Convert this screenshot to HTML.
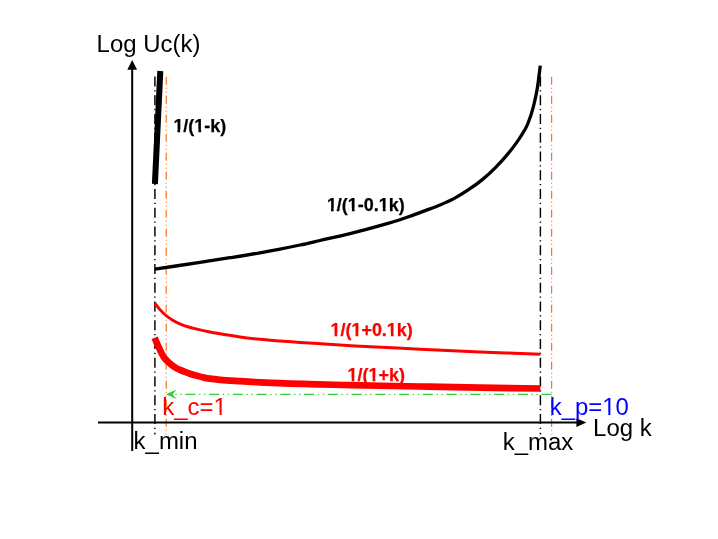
<!DOCTYPE html>
<html>
<head>
<meta charset="utf-8">
<title>Log Uc(k)</title>
<style>
html,body{margin:0;padding:0;background:#fff;}
body{width:718px;height:539px;overflow:hidden;font-family:"Liberation Sans",sans-serif;}
svg{display:block;will-change:transform;}
text{font-family:"Liberation Sans",sans-serif;}
.b{font-weight:bold;font-size:17.95px;stroke-width:0.25px;stroke-linejoin:round;}
.n{font-size:23.95px;}
</style>
</head>
<body>
<svg width="718" height="539" viewBox="0 0 718 539">
<defs>
<clipPath id="ct2"><path clip-rule="evenodd" d="M0 0H718V539H0Z M173.23 129.27H177.47V133.60H173.23Z M180.17 129.27H183.11V133.60H180.17Z M194.78 129.27H198.42V133.60H194.78Z M201.12 129.27H205.13V133.60H201.12Z"/></clipPath>
<clipPath id="ct3"><path clip-rule="evenodd" d="M0 0H718V539H0Z M326.73 208.07H330.97V212.40H326.73Z M333.67 208.07H336.61V212.40H333.67Z M348.28 208.07H351.92V212.40H348.28Z M354.62 208.07H358.63V212.40H354.62Z M378.61 208.07H382.85V212.40H378.61Z M385.55 208.07H389.56V212.40H385.55Z"/></clipPath>
<clipPath id="ct4"><path clip-rule="evenodd" d="M0 0H718V539H0Z M330.33 333.27H334.57V337.60H330.33Z M337.27 333.27H340.21V337.60H337.27Z M351.88 333.27H355.52V337.60H351.88Z M358.22 333.27H362.23V337.60H358.22Z M386.71 333.27H390.95V337.60H386.71Z M393.66 333.27H397.67V337.60H393.66Z"/></clipPath>
<clipPath id="ct5"><path clip-rule="evenodd" d="M0 0H718V539H0Z M347.43 377.87H351.67V382.20H347.43Z M354.37 377.87H357.31V382.20H354.37Z M368.98 377.87H372.62V382.20H368.98Z M375.32 377.87H379.33V382.20H375.32Z"/></clipPath>
<clipPath id="ct6"><path clip-rule="evenodd" d="M0 0H718V539H0Z M214.08 412.51H219.58V416.80H214.08Z M221.70 412.51H227.01V416.80H221.70Z"/></clipPath>
<clipPath id="ct7"><path clip-rule="evenodd" d="M0 0H718V539H0Z M602.83 412.51H608.32V416.80H602.83Z M610.44 412.51H615.75V416.80H610.44Z"/></clipPath>
</defs>
<rect width="718" height="539" fill="#fff"/>

<!-- vertical dash-dot guide lines -->
<line x1="154.9" y1="76.5" x2="154.9" y2="434.5" stroke="#000" stroke-width="1.45" stroke-dasharray="10 3.75 1.25 3.75"/>
<line x1="540.4" y1="76.5" x2="540.4" y2="434.5" stroke="#000" stroke-width="1.45" stroke-dasharray="10 3.75 1.25 3.75"/>
<line x1="166.2" y1="76.7" x2="166.2" y2="434.5" stroke="#ff6600" stroke-width="1.1" stroke-dasharray="8 3 1 3 1 3"/>
<line x1="551.65" y1="76.7" x2="551.65" y2="434.5" stroke="#ff6600" stroke-width="1.1" stroke-dasharray="8 3 1 3 1 3"/>

<!-- green arrow -->
<line x1="551.6" y1="394.45" x2="172" y2="394.45" stroke="#33cc33" stroke-width="1.25" stroke-dasharray="10 3.75 1.25 3.75 1.25 3.75"/>
<path d="M166 394.3 L176.6 389.5 L172.6 394.3 L176.6 399.1 Z" fill="#33cc33"/>

<!-- curves -->
<path d="M154.9 269.2 C169.93 266.90 184.97 264.60 200.0 262.3 C210.00 260.77 220.00 259.28 230.0 257.7 C240.00 256.12 250.00 254.56 260.0 252.8 C266.67 251.62 273.33 250.40 280.0 249.1 C286.67 247.80 293.33 246.43 300.0 245.0 C306.67 243.57 313.33 242.01 320.0 240.5 C330.00 238.23 340.00 236.08 350.0 233.6 C360.00 231.12 370.00 228.44 380.0 225.6 C386.67 223.71 393.33 221.87 400.0 219.7 C403.33 218.62 406.67 217.48 410.0 216.3 C415.07 214.51 420.13 212.51 425.2 210.6 C430.13 208.74 435.07 207.08 440.0 205.0 C444.63 203.05 449.27 201.07 453.9 198.6 C458.53 196.13 463.17 193.28 467.8 190.2 C472.43 187.12 477.07 183.90 481.7 180.1 C486.37 176.27 491.03 172.04 495.7 167.3 C500.33 162.60 504.97 157.64 509.6 151.8 C513.30 147.13 517.00 142.52 520.7 136.5 C523.03 132.70 525.37 129.80 527.7 124.0 C529.53 119.44 531.37 114.54 533.2 107.3 C534.60 101.77 536.00 96.79 537.4 87.8 C538.37 81.59 539.33 73.00 540.3 65.6" fill="none" stroke="#000" stroke-width="3.3" stroke-linejoin="round"/>
<line x1="160.3" y1="71" x2="154.9" y2="184" stroke="#000" stroke-width="6"/>
<path d="M155.0 303.3 C156.43 305.17 157.87 307.21 159.3 308.9 C161.13 311.06 162.97 312.85 164.8 314.5 C167.30 316.74 169.80 318.43 172.3 320.0 C175.37 321.93 178.43 323.33 181.5 324.6 C185.23 326.15 188.97 327.08 192.7 328.1 C195.13 328.76 197.57 329.34 200.0 329.9 C203.33 330.67 206.67 331.35 210.0 332.0 C213.33 332.65 216.67 333.22 220.0 333.8 C226.67 334.96 233.33 336.08 240.0 337.0 C246.67 337.92 253.33 338.63 260.0 339.3 C266.67 339.97 273.33 340.48 280.0 341.0 C286.67 341.52 293.33 341.94 300.0 342.4 C318.33 343.65 336.67 344.84 355.0 345.9 C376.67 347.15 398.33 348.16 420.0 349.2 C440.00 350.16 460.00 351.05 480.0 351.9 C500.13 352.75 520.27 353.50 540.4 354.3" fill="none" stroke="#ff0000" stroke-width="3" stroke-linejoin="round"/>
<path d="M154.7 337.8 C155.23 339.15 155.77 340.57 156.3 341.9 C157.20 344.01 158.10 345.76 159.0 347.7 C159.90 349.64 160.80 351.79 161.7 353.5 C162.40 354.83 163.10 356.08 163.8 357.1 C164.60 358.27 165.40 359.03 166.2 359.9 C166.97 360.73 167.73 361.48 168.5 362.2 C169.30 362.95 170.10 363.64 170.9 364.3 C171.77 365.01 172.63 365.67 173.5 366.3 C174.33 366.90 175.17 367.50 176.0 368.0 C177.33 368.80 178.67 369.31 180.0 369.9 C181.67 370.64 183.33 371.27 185.0 371.9 C186.67 372.53 188.33 373.14 190.0 373.7 C192.33 374.48 194.67 375.15 197.0 375.8 C199.33 376.45 201.67 377.11 204.0 377.6 C206.00 378.02 208.00 378.30 210.0 378.6 C213.33 379.10 216.67 379.46 220.0 379.8 C226.67 380.49 233.33 380.78 240.0 381.2 C246.67 381.62 253.33 381.97 260.0 382.3 C266.67 382.63 273.33 382.93 280.0 383.2 C303.33 384.16 326.67 384.55 350.0 385.1 C373.33 385.65 396.67 386.05 420.0 386.5 C440.00 386.88 460.00 387.27 480.0 387.6 C500.13 387.93 520.27 388.20 540.4 388.5" fill="none" stroke="#ff0000" stroke-width="6.7" stroke-linejoin="round"/>

<!-- axes -->
<line x1="132.2" y1="451" x2="132.2" y2="68" stroke="#000" stroke-width="2"/>
<path d="M132.2 60.1 L137.1 69.7 L127.3 69.7 Z" fill="#000"/>
<line x1="98.0" y1="422.6" x2="577.5" y2="422.6" stroke="#000" stroke-width="2"/>
<path d="M586.3 422.6 L576.4 418.3 L576.4 426.9 Z" fill="#000"/>

<!-- labels -->
<text class="n" x="96.6" y="52.4" fill="#000">Log Uc(k)</text>
<text class="b" x="173.4" y="131.9" fill="#000" stroke="#000" clip-path="url(#ct2)">1/(1-k)</text>
<text class="b" x="326.9" y="210.7" fill="#000" stroke="#000" clip-path="url(#ct3)">1/(1-0.1k)</text>
<text class="b" x="330.5" y="335.9" fill="#ff0000" stroke="#ff0000" clip-path="url(#ct4)">1/(1+0.1k)</text>
<text class="b" x="347.6" y="380.5" fill="#ff0000" stroke="#ff0000" clip-path="url(#ct5)">1/(1+k)</text>
<text class="n" x="162.3" y="415.1" fill="#ff0000" clip-path="url(#ct6)">k_c=1</text>
<text class="n" x="549.7" y="415.1" fill="#0000ff" clip-path="url(#ct7)">k_p=10</text>
<text class="n" x="593.1" y="435.6" fill="#000">Log k</text>
<text class="n" x="133.6" y="448.6" fill="#000">k_min</text>
<text class="n" x="502.7" y="449.6" fill="#000">k_max</text>
</svg>
</body>
</html>
